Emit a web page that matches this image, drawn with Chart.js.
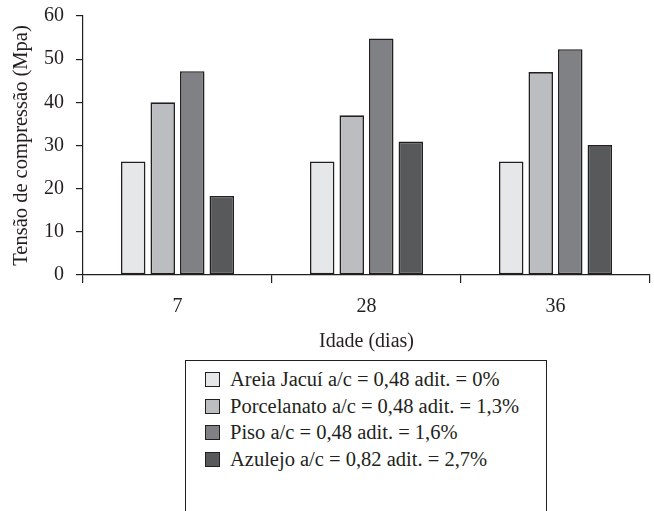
<!DOCTYPE html>
<html>
<head>
<meta charset="utf-8">
<script src="https://cdn.jsdelivr.net/npm/chart.js@4/dist/chart.umd.min.js"></script>
<style>
  body { margin: 0; background: #fff; }
  #wrap { position: relative; width: 654px; height: 511px; overflow: hidden; }
  #chartBox { position: absolute; left: 0; top: -6px; width: 654px; height: 366px; }
  #legend {
    position: absolute; left: 185px; top: 360px; width: 362px; height: 170px;
    border: 1.5px solid #231f20; box-sizing: border-box;
    font-family: 'Liberation Serif', 'Times New Roman', serif; font-size: 20.5px; color: #231f20;
  }
  .item { position: absolute; left: 0; height: 26.7px; line-height: 26.7px; white-space: nowrap; }
  .swatch { position: absolute; left: 19px; top: 6px; width: 13px; height: 13px; border: 1.5px solid #231f20; }
  .label { position: absolute; left: 44px; top: 0; }
</style>
</head>
<body>
<div id="wrap">
  <div id="chartBox"><canvas id="chart"></canvas></div>
  <div id="legend"></div>
</div>
<script>
// data
const idades = ['7', '28', '36'];
const areiaJacui = [26.3, 26.3, 26.3];
const porcelanato = [40.0, 37.0, 47.0];
const piso = [47.2, 54.8, 52.3];
const azulejo = [18.3, 30.9, 30.1];
const seriesNames = [
    'Areia Jacuí a/c = 0,48 adit. = 0%',
    'Porcelanato a/c = 0,48 adit. = 1,3%',
    'Piso a/c = 0,48 adit. = 1,6%',
    'Azulejo a/c = 0,82 adit. = 2,7%'
];
const yTicks = [0, 10, 20, 30, 40, 50, 60];

const colors = ['#e6e7e8', '#bcbdc0', '#808184', '#58595b'];
const ink = '#231f20';
const serif = "'Liberation Serif', 'Times New Roman', serif";

const datasets = [areiaJacui, porcelanato, piso, azulejo].map((vals, i) => ({
    label: seriesNames[i],
    data: vals,
    backgroundColor: colors[i],
    borderColor: ink,
    borderWidth: 1.6,
    borderSkipped: false,
    categoryPercentage: 0.625,
    barPercentage: 0.83
}));

const ctx = document.getElementById('chart').getContext('2d');
const chart = new Chart(ctx, {
    type: 'bar',
    data: { labels: idades, datasets: datasets },
    options: {
        responsive: true,
        maintainAspectRatio: false,
        animation: false,
        layout: { padding: { top: 0, right: 4, bottom: 0, left: 0 } },
        plugins: {
            legend: { display: false },
            tooltip: { enabled: false }
        },
        scales: {
            x: {
                offset: true,
                grid: { offset: true, drawOnChartArea: false, color: ink, lineWidth: 1.2, tickLength: 8 },
                border: { color: ink, width: 1.2 },
                ticks: { color: ink, font: { family: serif, size: 20 }, padding: 12 },
                title: { display: true, text: 'Idade (dias)', color: ink, font: { family: serif, size: 20 }, padding: { top: 0, bottom: 6 } },
                afterFit: s => { s.height = 85; }
            },
            y: {
                min: 0, max: 60,
                afterBuildTicks: s => { s.ticks = yTicks.map(v => ({ value: v })); },
                grid: { drawOnChartArea: false, color: ink, lineWidth: 1.2, tickLength: 7 },
                border: { color: ink, width: 1.2 },
                ticks: { color: ink, font: { family: serif, size: 20, lineHeight: 1.0 }, padding: 12 },
                title: { display: true, text: 'Tensão de compressão (Mpa)', color: ink, font: { family: serif, size: 20.5 }, padding: { top: 9, bottom: 0 } },
                afterFit: s => { s.width = 83; }
            }
        }
    }
});

// legend built from the chart's datasets
const legend = document.getElementById('legend');
chart.data.datasets.forEach((ds, i) => {
    const item = document.createElement('div');
    item.className = 'item';
    item.style.top = (5 + i * 26.7) + 'px';
    item.innerHTML = `<span class="swatch" style="background:${ds.backgroundColor}"></span><span class="label">${ds.label}</span>`;
    legend.appendChild(item);
});
</script>
</body>
</html>
